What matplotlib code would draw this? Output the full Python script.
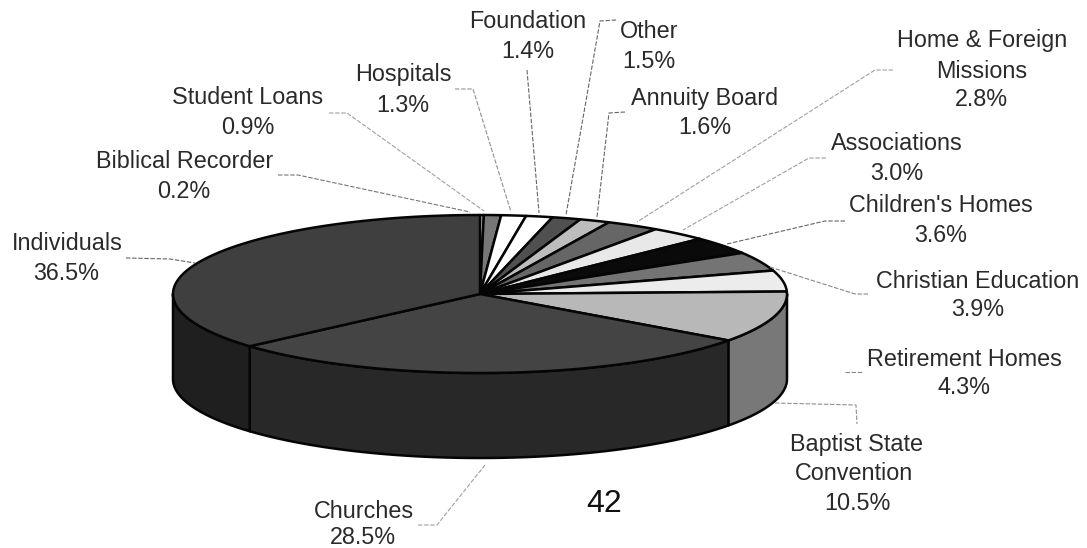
import numpy as np
import matplotlib
matplotlib.use("Agg")
import matplotlib.pyplot as plt

plt.rcParams["font.family"] = ["Liberation Sans", "DejaVu Sans"]

# slices clockwise from 12 o'clock
names = ["Biblical Recorder", "Student Loans", "Hospitals", "Foundation", "Other",
         "Annuity Board", "Home & Foreign\nMissions", "Associations", "Children's Homes",
         "Christian Education", "Retirement Homes", "Baptist State\nConvention",
         "Churches", "Individuals"]
values = [0.2, 0.9, 1.3, 1.4, 1.5, 1.6, 2.8, 3.0, 3.6, 3.9, 4.3, 10.5, 28.5, 36.5]

top_colors = ["#f0f0f0", "#777777", "#ffffff", "#ffffff", "#505050", "#bdbdbd", "#666666",
              "#e8e8e8", "#0a0a0a", "#747474", "#ececec", "#b8b8b8", "#444444", "#3f3f3f"]
side_colors = ["#222222"] * 11 + ["#787878", "#282828", "#1f1f1f"]

# pixel layout of the text, (x centre, y centre) per line
name_pos = [[(185, 161)], [(248, 98)], [(403, 75)], [(528, 22)], [(649, 32)],
            [(705, 98)], [(982, 41), (982, 71)], [(897, 144)], [(941, 206)],
            [(978, 281)], [(964, 359)], [(857, 444), (854, 473)],
            [(364, 511)], [(67, 244)]]
value_pos = [(184, 191), (248, 128), (403, 105), (528, 51), (649, 61),
             (705, 128), (981, 100), (897, 174), (941, 236),
             (978, 310), (964, 388), (857, 503), (363, 537), (66, 274)]

# leader lines in pixels
leaders = [
    [(278, 175), (298, 175), (470, 212)],
    [(329, 113), (347, 113), (484, 211)],
    [(455, 89), (473, 89), (511, 212)],
    [(527, 70), (539, 213)],
    [(616, 20), (600, 21), (566, 215)],
    [(625, 112), (609, 113), (597, 217)],
    [(893, 70), (875, 70), (637, 222)],
    [(826, 158), (809, 158), (683, 230)],
    [(845, 221), (825, 221), (727, 244)],
    [(868, 294), (855, 294), (770, 267)],
    [(845, 372), (863, 372)],
    [(775, 403), (856, 405), (857, 424)],
    [(418, 525), (437, 525), (485, 465)],
    [(126, 258), (170, 259), (195, 263)],
]
leader_colors = ["#777777", "#a0a0a0", "#909090", "#666666", "#666666", "#666666", "#a0a0a0",
                 "#a0a0a0", "#666666", "#888888", "#888888", "#909090", "#a0a0a0", "#666666"]

cx, cy = 480, 294
rx, ry = 307, 79
depth = 85


def edge(frac):
    # point on the top ellipse, frac of the way clockwise from the top
    a = 2 * np.pi * np.asarray(frac)
    return cx + rx * np.sin(a), cy - ry * np.cos(a)


fig = plt.figure(figsize=(10.87, 5.48), dpi=100)
ax = fig.add_axes([0, 0, 1, 1])
ax.set_xlim(0, 1087)
ax.set_ylim(548, 0)
ax.axis("off")

stops = np.concatenate([[0], np.cumsum(values)]) / sum(values)

# walls first, only the front half can be seen
for i in range(len(values)):
    lo, hi = max(stops[i], 0.25), min(stops[i + 1], 0.75)
    if hi <= lo:
        continue
    x, y = edge(np.linspace(lo, hi, 120))
    ax.fill(np.r_[x, x[::-1]], np.r_[y, y[::-1] + depth], facecolor=side_colors[i],
            edgecolor="#050505", linewidth=1.8, joinstyle="round")

# top face
for i in range(len(values)):
    x, y = edge(np.linspace(stops[i], stops[i + 1], 120))
    ax.fill(np.r_[cx, x], np.r_[cy, y], facecolor=top_colors[i],
            edgecolor="#050505", linewidth=1.8, joinstyle="round")

for pts, col in zip(leaders, leader_colors):
    xs, ys = zip(*pts)
    ax.plot(xs, ys, color=col, linewidth=0.8, linestyle=(0, (4, 1.5)))

for name, pos, val, vpos in zip(names, name_pos, values, value_pos):
    for line, (x, y) in zip(name.split("\n"), pos):
        ax.text(x, y, line, fontsize=16.8, color="#2a2a2a", ha="center", va="center")
    ax.text(vpos[0], vpos[1], f"{val}%", fontsize=16.8, color="#2a2a2a", ha="center", va="center")

ax.text(604, 504, "42", fontsize=23, color="#111111", ha="center", va="center")

fig.savefig("out.png", dpi=100)
